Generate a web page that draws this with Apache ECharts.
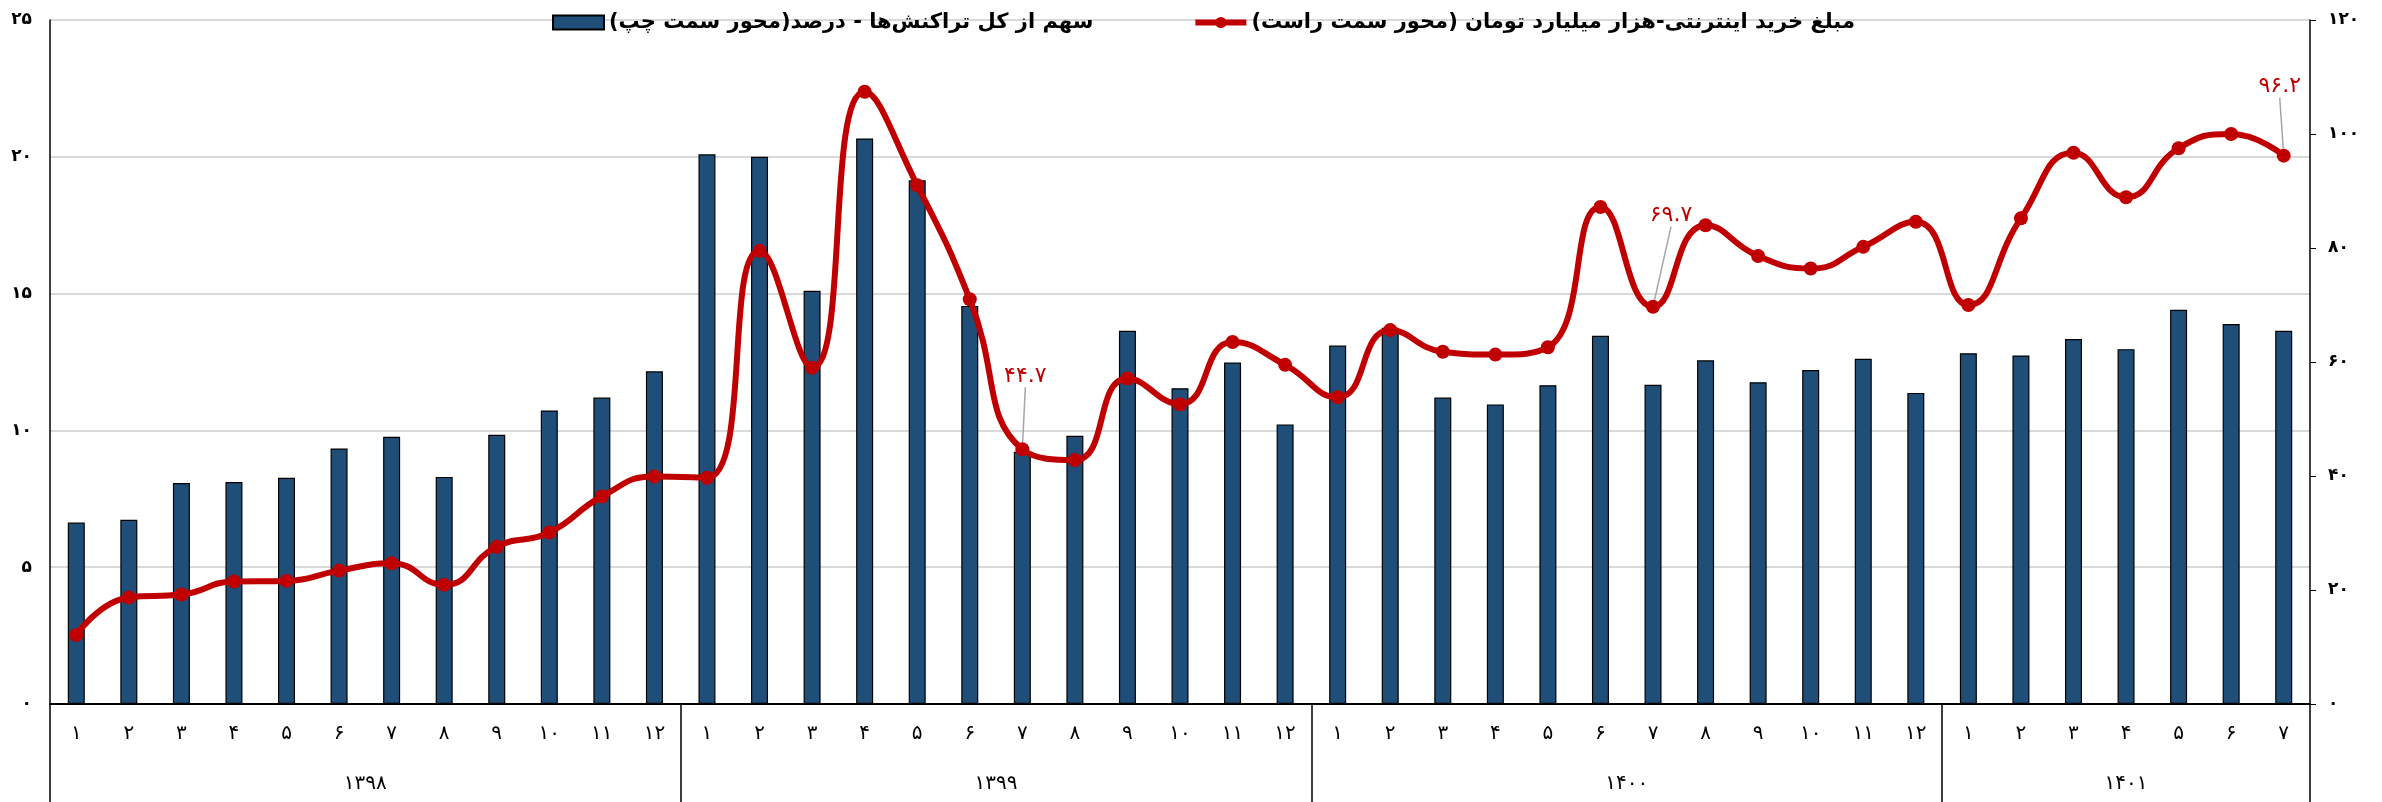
<!DOCTYPE html>
<html>
<head>
<meta charset="utf-8">
<script src="https://cdn.jsdelivr.net/npm/echarts@6.0.0/dist/echarts.min.js"></script>
<style>
  html, body { margin: 0; padding: 0; background: #fff; }
  #main { width: 2382px; height: 802px; }
</style>
</head>
<body>
<div id="main"></div>
<script>
// years and how many months of each are shown
var years = ['1398', '1399', '1400', '1401'];
var monthsPerYear = [12, 12, 12, 7];

// share of all transactions - percent (left axis)
var share = [6.63, 6.73, 8.08, 8.11, 8.27, 9.34, 9.77, 8.30, 9.84, 10.73, 11.2, 12.16,
  20.09, 20.0, 15.1, 20.67, 19.14, 14.55, 9.22, 9.80, 13.64, 11.54, 12.48, 10.22,
  13.10, 13.75, 11.2, 10.95, 11.65, 13.46, 11.67, 12.56, 11.76, 12.21, 12.62, 11.37,
  12.82, 12.74, 13.34, 12.97, 14.41, 13.89, 13.64];

// online purchase amount - thousand billion toman (right axis)
var purchase = [12.1, 18.7, 19.2, 21.5, 21.6, 23.4, 24.7, 20.9, 27.6, 30.1, 36.4, 39.9,
  39.7, 79.5, 59.0, 107.4, 91.0, 71.0, 44.7, 42.8, 57.1, 52.6, 63.5, 59.5,
  53.8, 65.6, 61.8, 61.3, 62.6, 87.2, 69.7, 84.0, 78.6, 76.4, 80.2, 84.6,
  70.0, 85.2, 96.7, 88.9, 97.5, 100.0, 96.2];

// which points carry a value label
var labeledPoints = [18, 30, 42];

var barName = '\u200Fسهم از کل تراکنش‌ها - درصد(محور سمت چپ)\u200F';
var lineName = '\u200Fمبلغ خرید اینترنتی-هزار میلیارد تومان (محور سمت راست)\u200F';

function fa(s) {
  return String(s).replace(/[0-9]/g, function (d) { return '۰۱۲۳۴۵۶۷۸۹'[+d]; });
}

var months = [];
var yearEdges = [0];
var yearMids = [];
var n = 0;
for (var y = 0; y < years.length; y++) {
  for (var m = 1; m <= monthsPerYear[y]; m++) months.push(fa(m));
  yearMids.push(n + monthsPerYear[y] / 2);
  n += monthsPerYear[y];
  yearEdges.push(n);
}

var FONT = 'DejaVu Sans';

var lineData = purchase.map(function (v, i) {
  if (labeledPoints.indexOf(i) < 0) return v;
  return { value: v, label: { show: true }, labelLine: { show: true } };
});

// label shift for the labelled points
var labelShift = { 18: [3, -50], 30: [18, -68], 42: [-4, -46] };

var chart = echarts.init(document.getElementById('main'));
var option = {
  backgroundColor: '#fff',
  animation: false,
  legend: {
    top: 7,
    left: 547,
    itemWidth: 51,
    itemHeight: 14,
    itemGap: 99,
    textStyle: { fontFamily: FONT, fontSize: 21, fontWeight: 'bold', color: '#000' },
    data: [
      { name: barName, icon: 'rect' },
      { name: lineName, lineStyle: { width: 6, color: '#C00000' } }
    ]
  },
  grid: { left: 50, right: 72, top: 20, bottom: 98 },
  xAxis: [
    {
      type: 'category',
      data: months,
      boundaryGap: true,
      axisLine: { lineStyle: { color: '#000', width: 2 } },
      axisTick: { show: false },
      axisLabel: { fontFamily: FONT, fontSize: 20, color: '#000', margin: 20 }
    },
    {
      type: 'value',
      min: 0,
      max: n,
      position: 'bottom',
      axisLine: { show: false },
      splitLine: { show: false },
      axisTick: {
        show: true,
        customValues: yearEdges,
        length: 98,
        lineStyle: { color: '#000', width: 1.5 }
      },
      axisLabel: {
        customValues: yearMids,
        fontFamily: FONT, fontSize: 20, color: '#000', margin: 70,
        formatter: function (v) {
          var k = yearMids.indexOf(v);
          return k >= 0 ? fa(years[k]) : '';
        }
      }
    }
  ],
  yAxis: [
    {
      type: 'value',
      min: 0, max: 25, interval: 5,
      axisLine: { show: true, lineStyle: { color: '#000', width: 1.5 } },
      axisTick: { show: false },
      splitLine: { lineStyle: { color: '#d9d9d9', width: 2 } },
      axisLabel: { fontFamily: FONT, fontSize: 17, fontWeight: 'bold', color: '#000', margin: 18, formatter: fa }
    },
    {
      type: 'value',
      min: 0, max: 120, interval: 20,
      position: 'right',
      axisLine: { show: true, lineStyle: { color: '#000', width: 1.5 } },
      axisTick: { show: true, inside: false, length: 6, lineStyle: { color: '#000' } },
      splitLine: { show: false },
      axisLabel: { fontFamily: FONT, fontSize: 17, fontWeight: 'bold', color: '#000', margin: 18, formatter: fa }
    }
  ],
  series: [
    {
      name: barName,
      type: 'bar',
      xAxisIndex: 0,
      yAxisIndex: 0,
      barWidth: 17,
      itemStyle: { color: '#1F4E79', borderColor: '#000', borderWidth: 1.2 },
      data: share
    },
    {
      name: lineName,
      type: 'line',
      xAxisIndex: 0,
      yAxisIndex: 1,
      smooth: 0.5,
      symbol: 'circle',
      symbolSize: 14,
      z: 5,
      lineStyle: { color: '#C00000', width: 6 },
      itemStyle: { color: '#C00000' },
      label: {
        show: false,
        position: 'top',
        distance: 5,
        fontFamily: FONT,
        fontSize: 22,
        color: '#C00000',
        formatter: function (p) { return fa(p.value); }
      },
      labelLine: { show: true, lineStyle: { color: '#a6a6a6', width: 1.5 } },
      labelLayout: function (p) {
        var s = labelShift[p.dataIndex];
        return s ? { dx: s[0], dy: s[1] } : {};
      },
      data: lineData
    }
  ]
};
chart.setOption(option);
</script>
</body>
</html>
